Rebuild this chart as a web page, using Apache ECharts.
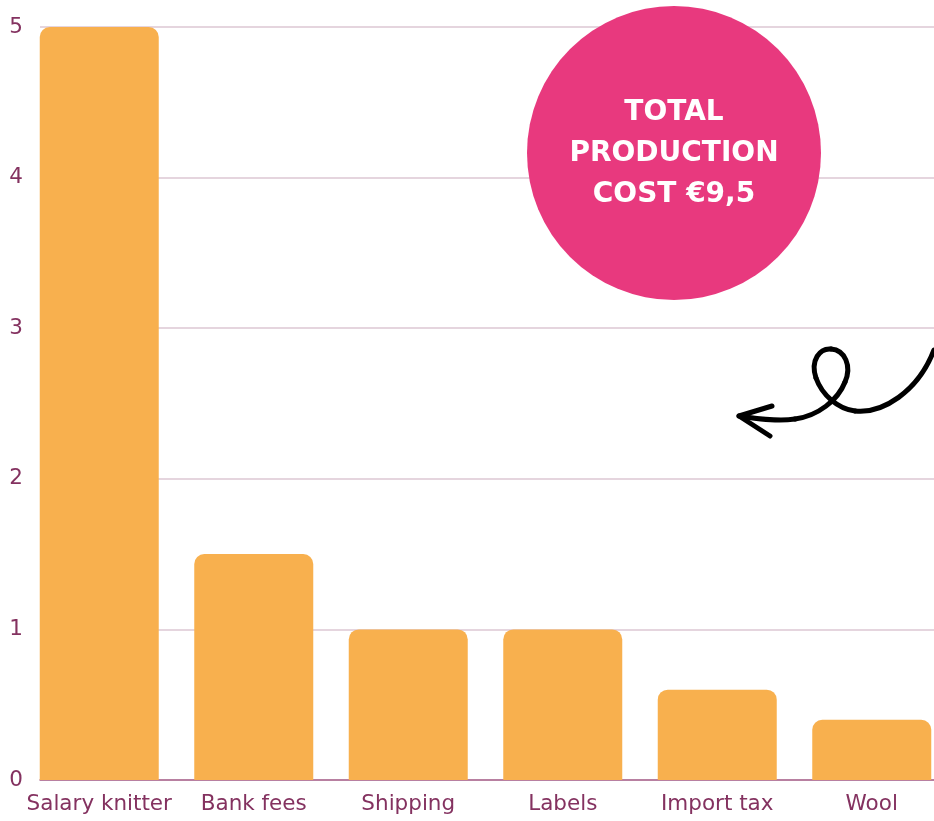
<!DOCTYPE html>
<html>
<head>
<meta charset="utf-8">
<script src="https://cdn.jsdelivr.net/npm/echarts@6/dist/echarts.min.js"></script>
<style>
  html, body { margin: 0; padding: 0; background: #ffffff; }
  #chart { width: 934px; height: 821px; }
</style>
</head>
<body>
<div id="chart"></div>
<script>
// Cost breakdown per item (EUR)
const categories = ['Salary knitter', 'Bank fees', 'Shipping', 'Labels', 'Import tax', 'Wool'];
const costs = [5, 1.5, 1, 1, 0.6, 0.4];
const yTicks = [0, 1, 2, 3, 4, 5];
const badgeLines = ['TOTAL', 'PRODUCTION', 'COST €9,5'];

const FONT = '"DejaVu Sans", "Open Sans", sans-serif';
const BADGE_FONT = '"DejaVu Sans", "Open Sans", sans-serif';
const LABEL_COLOR = '#843260';

// looped hand-drawn arrow, as cubic segments [x1,y1,cp1x,cp1y,cp2x,cp2y,x2,y2]
const arrowCurves = [
  [934, 350, 918, 392, 882, 414, 855, 411],
  [855, 411, 838, 409, 822, 395, 816, 378],
  [816, 378, 810, 360, 820, 348, 831, 349],
  [831, 349, 845, 350, 852, 366, 845, 382],
  [845, 382, 838, 400, 818, 416, 795, 419],
  [795, 419, 775, 422, 755, 418, 739, 416]
];
const arrowHead = [[772, 406], [739, 416], [770, 436]];

const strokeStyle = { fill: null, stroke: '#000000', lineWidth: 5, lineCap: 'round', lineJoin: 'round' };

const arrowParts = arrowCurves.map(c => ({
  type: 'bezierCurve',
  shape: { x1: c[0], y1: c[1], cpx1: c[2], cpy1: c[3], cpx2: c[4], cpy2: c[5], x2: c[6], y2: c[7] },
  style: strokeStyle
}));
arrowParts.push({ type: 'polyline', shape: { points: arrowHead }, style: strokeStyle });

const chart = echarts.init(document.getElementById('chart'), null, { renderer: 'canvas' });

chart.setOption({
  backgroundColor: '#ffffff',
  animation: false,
  grid: [
    // bars (category band of 154.5px, last band runs past the right edge)
    { left: 22, width: 927, top: 27, bottom: 41, outerBoundsMode: 'none', containLabel: false },
    // gridlines, value labels and baseline
    { left: 40, right: 0, top: 27, bottom: 41, outerBoundsMode: 'none', containLabel: false }
  ],
  xAxis: [
    {
      type: 'category',
      gridIndex: 0,
      data: categories,
      axisLine: { show: false },
      axisTick: { show: false },
      axisLabel: {
        interval: 0,
        hideOverlap: false,
        color: LABEL_COLOR,
        fontFamily: FONT,
        fontSize: 21.5,
        margin: 13
      }
    },
    {
      type: 'value',
      gridIndex: 1,
      min: 0,
      max: 1,
      axisLine: { show: true, lineStyle: { color: '#a9648d', width: 1.5 } },
      axisTick: { show: false },
      axisLabel: { show: false },
      splitLine: { show: false }
    }
  ],
  yAxis: [
    {
      type: 'value',
      gridIndex: 0,
      min: yTicks[0],
      max: yTicks[yTicks.length - 1],
      show: false
    },
    {
      type: 'value',
      gridIndex: 1,
      min: yTicks[0],
      max: yTicks[yTicks.length - 1],
      interval: 1,
      axisLine: { show: false },
      axisTick: { show: false },
      axisLabel: {
        color: LABEL_COLOR,
        fontFamily: FONT,
        fontSize: 21.5,
        margin: 24,
        align: 'center'
      },
      splitLine: { show: true, lineStyle: { color: '#dcc7d3', width: 1.5 } }
    }
  ],
  series: [
    {
      type: 'bar',
      xAxisIndex: 0,
      yAxisIndex: 0,
      data: costs,
      barWidth: 119,
      itemStyle: { color: '#f8b04e', borderRadius: [10, 10, 0, 0] },
      z: 3
    }
  ],
  graphic: [
    {
      type: 'circle',
      shape: { cx: 674, cy: 153, r: 147 },
      style: { fill: '#e8397e' },
      z: 10
    },
    {
      type: 'text',
      x: 674,
      y: 154,
      style: {
        text: badgeLines.join('\n'),
        fill: '#ffffff',
        font: 'bold 28px ' + BADGE_FONT,
        lineHeight: 41,
        align: 'center',
        verticalAlign: 'middle'
      },
      z: 11
    },
    {
      type: 'group',
      z: 10,
      children: arrowParts
    }
  ]
});
</script>
</body>
</html>
